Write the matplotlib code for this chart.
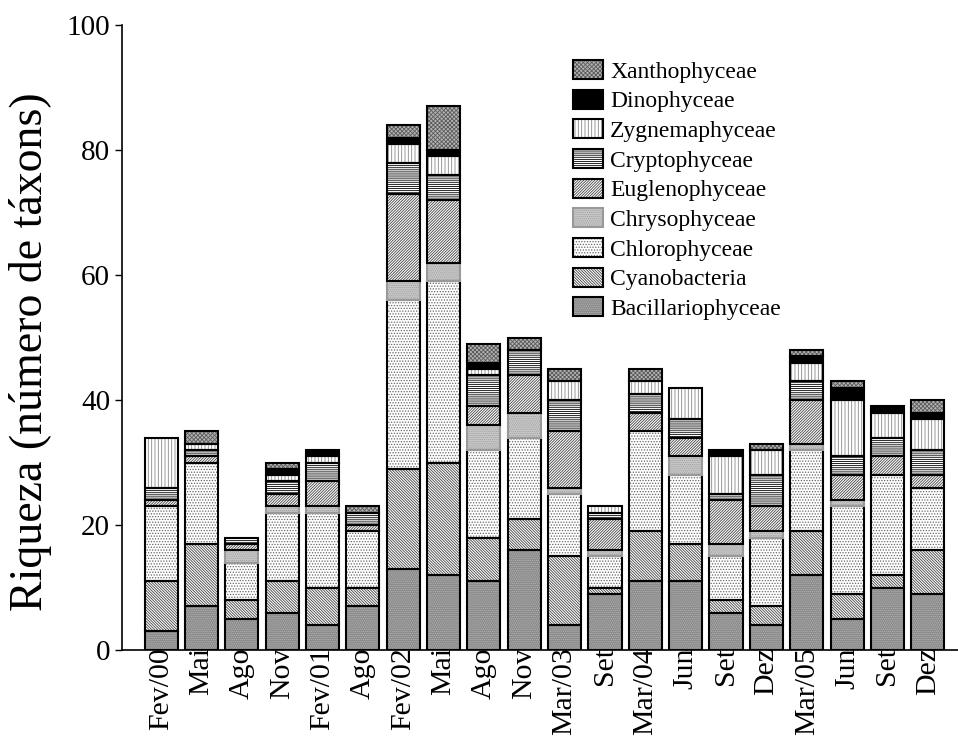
import numpy as np
import matplotlib
matplotlib.use("Agg")
import matplotlib.pyplot as plt
from matplotlib.patches import Patch

plt.rcParams['font.family'] = ['Liberation Serif', 'DejaVu Serif']
plt.rcParams['hatch.linewidth'] = 0.6

labels = ["Fev/00", "Mai", "Ago", "Nov", "Fev/01", "Ago", "Fev/02", "Mai", "Ago", "Nov",
          "Mar/03", "Set", "Mar/04", "Jun", "Set", "Dez", "Mar/05", "Jun", "Set", "Dez"]

categories = ["Bacillariophyceae", "Cyanobacteria", "Chlorophyceae", "Chrysophyceae",
              "Euglenophyceae", "Cryptophyceae", "Zygnemaphyceae", "Dinophyceae", "Xanthophyceae"]

bacillariophyceae = [3, 7, 5, 6, 4, 7, 13, 12, 11, 16, 4, 9, 11, 11, 6, 4, 12, 5, 10, 9]
cyanobacteria     = [8, 10, 3, 5, 6, 3, 16, 18, 7, 5, 11, 1, 8, 6, 2, 3, 7, 4, 2, 7]
chlorophyceae     = [12, 13, 6, 11, 12, 9, 27, 29, 14, 13, 10, 5, 16, 11, 7, 11, 13, 14, 16, 10]
chrysophyceae     = [0, 0, 2, 1, 1, 0, 3, 3, 4, 4, 1, 1, 0, 3, 2, 1, 1, 1, 0, 0]
euglenophyceae    = [1, 1, 1, 2, 4, 1, 14, 10, 3, 6, 9, 5, 3, 3, 7, 4, 7, 4, 3, 2]
cryptophyceae     = [2, 1, 1, 2, 3, 2, 5, 4, 5, 4, 5, 1, 3, 3, 1, 5, 3, 3, 3, 4]
zygnemaphyceae    = [8, 1, 0, 1, 1, 0, 3, 3, 1, 0, 3, 1, 2, 5, 6, 4, 3, 9, 4, 5]
dinophyceae       = [0, 0, 0, 1, 1, 0, 1, 1, 1, 0, 0, 0, 0, 0, 1, 0, 1, 2, 1, 1]
xanthophyceae     = [0, 2, 0, 1, 0, 1, 2, 7, 3, 2, 2, 0, 2, 0, 0, 1, 1, 1, 0, 2]

series = [bacillariophyceae, cyanobacteria, chlorophyceae, chrysophyceae, euglenophyceae,
          cryptophyceae, zygnemaphyceae, dinophyceae, xanthophyceae]

# style: (facecolor, hatch, hatchcolor, edgecolor)
styles = [
    ('#8a8a8a', '........', '#b5b5b5', 'black'),
    ('white', '\\' * 12, '#444444', 'black'),
    ('white', '......', '#666666', 'black'),
    ('#c8c8c8', '........', '#a0a0a0', '#999999'),
    ('white', '/' * 12, '#444444', 'black'),
    ('white', '-' * 8, 'black', 'black'),
    ('white', '|||||', '#888888', 'black'),
    ('black', None, 'black', 'black'),
    ('#b4b4b4', 'x' * 8, '#5a5a5a', 'black'),
]

fig = plt.figure(figsize=(9.58, 7.45), dpi=100)
ax = fig.add_axes([122/958, 95/745, 1 - 122/958, 625/745])

x = np.arange(len(labels))
width = 0.82
bottom = np.zeros(len(labels))
handles = []
outlines = []
for vals, (fc, hatch, hc, ec) in zip(series, styles):
    v = np.array(vals, dtype=float)
    ax.bar(x, v, width, bottom=bottom, color=fc, edgecolor=hc, hatch=hatch, linewidth=0, zorder=2)
    outlines.append((v.copy(), bottom.copy(), ec))
    bottom = bottom + v
    handles.append((Patch(facecolor=fc, edgecolor=hc, hatch=hatch, linewidth=0),
                    Patch(fill=False, edgecolor=ec, linewidth=1.5)))

for v, b, ec in outlines:
    idx = np.nonzero(v > 0)[0]
    ax.bar(x[idx], v[idx], width, bottom=b[idx], fill=False, edgecolor=ec, linewidth=1.5, zorder=3)

ax.set_xlim(-0.97, 19.75)
ax.set_ylim(0, 100)
ax.set_yticks([0, 20, 40, 60, 80, 100])
ax.set_xticks(x)
ax.set_xticklabels(labels, rotation=90, fontsize=21.5)
ax.tick_params(axis='y', labelsize=21, direction='out', length=5, width=1)
ax.tick_params(axis='x', direction='in', length=4, width=1, pad=-2)
for s in ['top', 'right']:
    ax.spines[s].set_visible(False)
for s in ['left', 'bottom']:
    ax.spines[s].set_linewidth(1.2)

ax.set_ylabel("Riqueza (número de táxons)", fontsize=33)
ax.yaxis.set_label_coords(-0.084, 0.477)

leg = fig.legend(handles[::-1], categories[::-1], loc='upper left',
                 bbox_to_anchor=(573/958, 1 - 60/745), frameon=False, fontsize=17,
                 handlelength=1.27, handleheight=0.85, handletextpad=0.3,
                 labelspacing=0.3, borderpad=0, borderaxespad=0)

fig.savefig("out.png", dpi=100)
